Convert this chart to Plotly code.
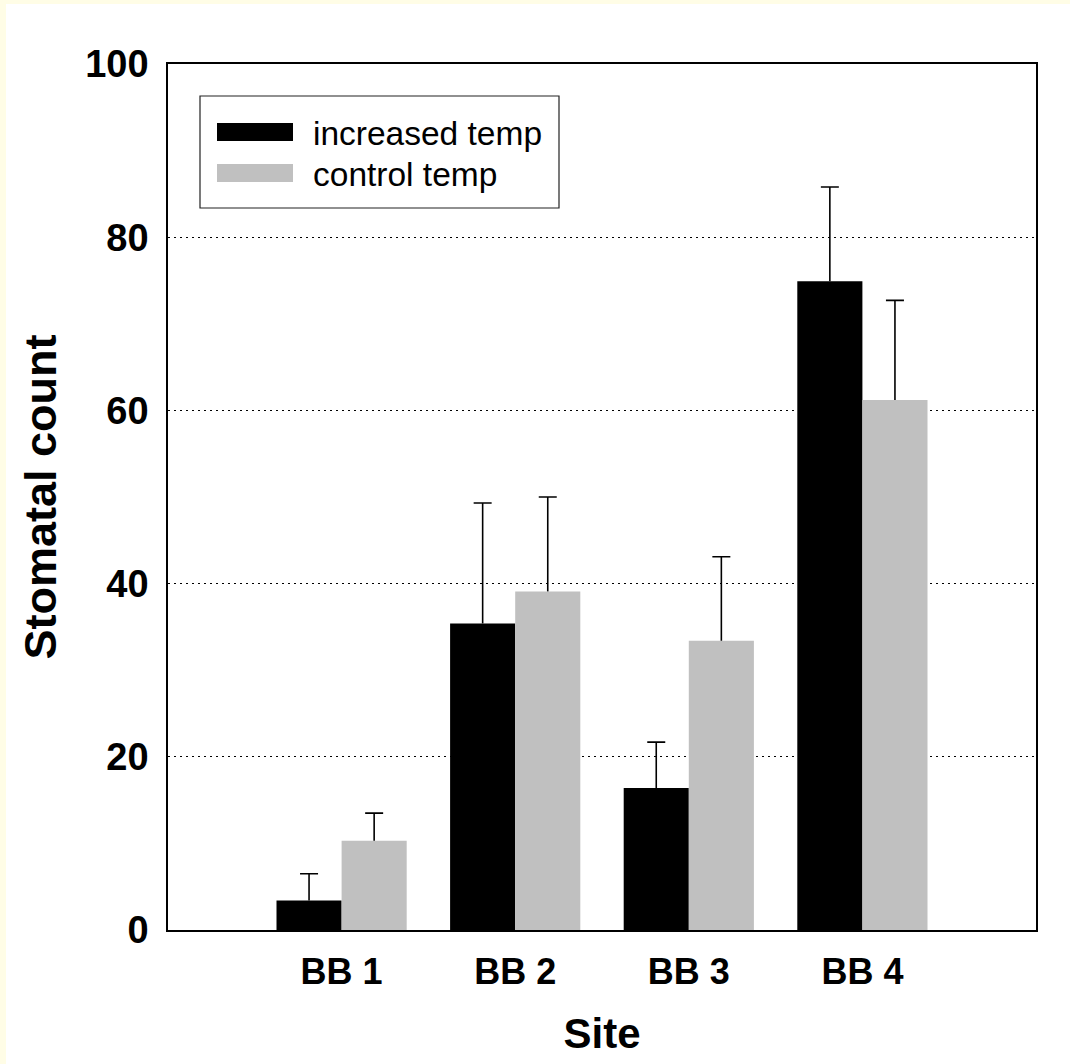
import plotly.graph_objects as go

# ---- data ----
sites = ["BB 1", "BB 2", "BB 3", "BB 4"]
increased_temp = [3.4, 35.4, 16.4, 74.9]
increased_err = [3.1, 13.9, 5.3, 10.9]
control_temp = [10.3, 39.1, 33.4, 61.2]
control_err = [3.2, 10.9, 9.7, 11.5]
y_ticks = [0, 20, 40, 60, 80, 100]

BLACK = "#000000"
GREY = "#C0C0C0"
YELLOW = "#FFFDE6"
FONT = "Arial, Liberation Sans, sans-serif"

W, H = 1070, 1064
ML, MR, MT, MB = 168, 34, 64, 134
PW, PH = W - ML - MR, H - MT - MB


def px_x(px):
    return (px - ML) / PW


def px_y(py):
    return (H - MB - py) / PH


fig = go.Figure()

# bars with upward error stems (caps drawn separately so no cap sits on bar tops)
for name, vals, errs, color, grp in [
    ("increased temp", increased_temp, increased_err, BLACK, "a"),
    ("control temp", control_temp, control_err, GREY, "b"),
]:
    fig.add_trace(go.Bar(
        x=sites, y=vals, name=name, offsetgroup=grp,
        marker=dict(color=color, line=dict(width=0)),
        error_y=dict(type="data", symmetric=False, array=errs,
                     arrayminus=[0] * len(errs), color="black",
                     thickness=1.6, width=0),
        showlegend=False,
    ))
    tops = [v + e for v, e in zip(vals, errs)]
    fig.add_trace(go.Bar(
        x=sites, y=tops, offsetgroup=grp,
        marker=dict(color="rgba(0,0,0,0)", line=dict(width=0)),
        error_y=dict(type="data", symmetric=False, array=[0] * len(tops),
                     arrayminus=[0] * len(tops), color="black",
                     thickness=1.6, width=9),
        showlegend=False, hoverinfo="skip",
    ))

fig.update_layout(
    width=W, height=H,
    margin=dict(l=ML, r=MR, t=MT, b=MB, autoexpand=False),
    paper_bgcolor="white",
    plot_bgcolor="white",
    barmode="group",
    bargap=0.25,
    bargroupgap=0,
    font=dict(family=FONT, color="black"),
    xaxis=dict(
        type="category", range=[-1, 4],
        showline=True, mirror=True, linecolor="black", linewidth=1.5,
        showgrid=False, ticks="",
        tickfont=dict(size=36, family=FONT, weight="bold"),
        ticklabelstandoff=9,
        title=dict(text="<b>Site</b>", font=dict(size=42, family=FONT), standoff=28),
    ),
    yaxis=dict(
        range=[0, 100], tickvals=y_ticks,
        showline=True, mirror=True, linecolor="black", linewidth=1.5,
        showgrid=True, gridcolor="black", gridwidth=1, griddash="1.5px,4.5px",
        zeroline=False, ticks="",
        tickfont=dict(size=38, family=FONT, weight="bold"),
        ticklabelstandoff=10,
        title=dict(text="<b>Stomatal count</b>", font=dict(size=45, family=FONT), standoff=14),
    ),
    shapes=[
        # thin pale-yellow strips along the top and left page edges
        dict(type="rect", xref="paper", yref="paper", layer="below",
             x0=px_x(-10), x1=px_x(6), y0=px_y(H + 20), y1=px_y(-10),
             fillcolor=YELLOW, line=dict(width=0)),
        dict(type="rect", xref="paper", yref="paper", layer="below",
             x0=px_x(-10), x1=px_x(W + 20), y0=px_y(4), y1=px_y(-10),
             fillcolor=YELLOW, line=dict(width=0)),
        # legend box
        dict(type="rect", xref="paper", yref="paper",
             x0=px_x(200), x1=px_x(559), y0=px_y(208), y1=px_y(96),
             fillcolor="white", line=dict(color="#222", width=1.2)),
        dict(type="rect", xref="paper", yref="paper",
             x0=px_x(217), x1=px_x(293), y0=px_y(141), y1=px_y(123),
             fillcolor=BLACK, line=dict(width=0)),
        dict(type="rect", xref="paper", yref="paper",
             x0=px_x(217), x1=px_x(293), y0=px_y(182), y1=px_y(164),
             fillcolor=GREY, line=dict(width=0)),
    ],
    annotations=[
        dict(text="increased temp", xref="paper", yref="paper",
             x=px_x(311), y=px_y(133), xanchor="left", yanchor="middle",
             showarrow=False, font=dict(size=33.5, family=FONT)),
        dict(text="control temp", xref="paper", yref="paper",
             x=px_x(311), y=px_y(174), xanchor="left", yanchor="middle",
             showarrow=False, font=dict(size=33.5, family=FONT)),
    ],
)

fig.write_html("out.html", config={"displayModeBar": False},
               post_script="document.body.style.margin='0';")
